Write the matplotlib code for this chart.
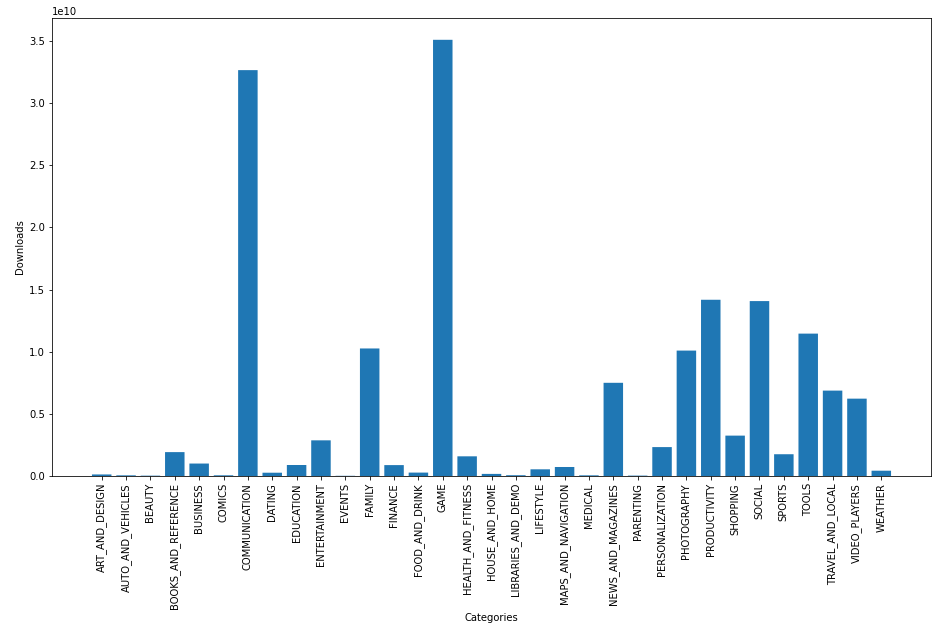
import matplotlib
matplotlib.use("Agg")
import matplotlib.pyplot as plt

# Total installs per app category
categories = [
    "ART_AND_DESIGN", "AUTO_AND_VEHICLES", "BEAUTY", "BOOKS_AND_REFERENCE",
    "BUSINESS", "COMICS", "COMMUNICATION", "DATING", "EDUCATION",
    "ENTERTAINMENT", "EVENTS", "FAMILY", "FINANCE", "FOOD_AND_DRINK", "GAME",
    "HEALTH_AND_FITNESS", "HOUSE_AND_HOME", "LIBRARIES_AND_DEMO", "LIFESTYLE",
    "MAPS_AND_NAVIGATION", "MEDICAL", "NEWS_AND_MAGAZINES", "PARENTING",
    "PERSONALIZATION", "PHOTOGRAPHY", "PRODUCTIVITY", "SHOPPING", "SOCIAL",
    "SPORTS", "TOOLS", "TRAVEL_AND_LOCAL", "VIDEO_PLAYERS", "WEATHER",
]
downloads = [
    124338100, 53130211, 27197050, 1921469576,
    1001914865, 56086150, 32647276251, 264310807, 884440000,
    2869160000, 15973161, 10258263505, 876648734, 273898751, 35086024415,
    1583072512, 168712461, 62995910, 537643539,
    724281890, 53257437, 7496317760, 31521110,
    2325494782, 10088247655, 14176091369, 3247848785, 14069867902,
    1751174498, 11452771915, 6868887146, 6222002720, 426100520,
]

fig = plt.figure(figsize=(948 / 72, 637 / 72), dpi=72)
ax = fig.add_axes([52 / 948, 1 - 476 / 637, (931 - 52) / 948, (476 - 18) / 637])
bars = ax.bar(categories, downloads)
# keep the tiny categories visible as thin strips
for b in bars:
    b.set_snap(False)
ax.set_xlabel("Categories")
ax.set_ylabel("Downloads")
plt.setp(ax.get_xticklabels(), rotation=90)

fig.savefig("out.png", dpi=72)
